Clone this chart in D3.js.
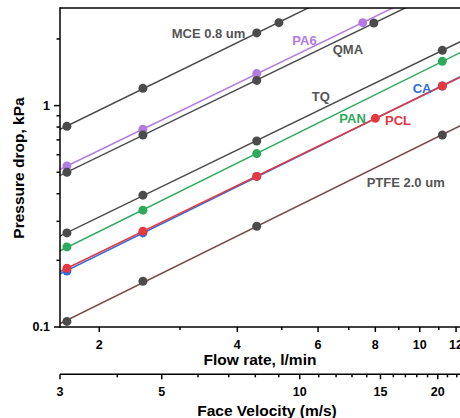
<!DOCTYPE html>
<html>
<head>
<meta charset="utf-8">
<script src="https://cdn.jsdelivr.net/npm/d3@7"></script>
<style>
  html, body { margin: 0; padding: 0; background: #fff; }
  svg { display: block; font-family: "Liberation Sans", Arial, sans-serif; }
</style>
</head>
<body>
<svg id="chart" width="460" height="418"></svg>
<script>
// ---- data ----
const seriesNames = ["MCE 0.8 um", "PA6", "QMA", "TQ", "PAN", "CA", "PCL", "PTFE 2.0 um"];
const mceFlow  = [1.70, 2.49, 4.41, 4.93];
const mceP     = [0.806, 1.197, 2.13, 2.37];
const pa6Flow  = [1.70, 2.49, 4.41, 7.51];
const pa6P     = [0.534, 0.782, 1.395, 2.37];
const qmaFlow  = [1.70, 2.49, 4.41, 7.94];
const qmaP     = [0.500, 0.737, 1.30, 2.36];
const tqFlow   = [1.70, 2.49, 4.41, 11.2];
const tqP      = [0.266, 0.394, 0.692, 1.777];
const panFlow  = [1.70, 2.49, 4.41, 11.2];
const panP     = [0.230, 0.337, 0.607, 1.585];
const caFlow   = [1.70, 2.49, 4.41, 11.2];
const caP      = [0.179, 0.266, 0.479, 1.226];
const pclFlow  = [1.70, 2.49, 4.41, 8.0, 11.2];
const pclP     = [0.184, 0.271, 0.479, 0.876, 1.226];
const ptfeFlow = [1.70, 2.49, 4.41, 11.2];
const ptfeP    = [0.106, 0.161, 0.285, 0.737];

const flowMajorTicks = [2, 4, 6, 8, 10, 12];
const flowMinorTicks = [3, 5, 7, 9, 11];
const velMajorTicks  = [3, 5, 10, 15, 20];
const velMinorTicks  = [4, 6, 7, 8, 9, 11, 12, 13, 14, 16, 17, 18, 19, 21, 22];
const yMajorTicks    = [0.1, 1];
const yMinorTicks    = [0.2, 0.3, 0.4, 0.5, 0.6, 0.7, 0.8, 0.9, 2];
const flowDomain = [1.642, 12.5];
const velDomain  = [3, 22.84];
const pDomain    = [0.1, 2.76];

// ---- styles / layout ----
const dark = "#4b4b4b";
const styles = {
  "MCE 0.8 um":  {line: dark,      marker: dark,      text: "#555555", lx: 171.7, ly: 37.5},
  "PA6":         {line: "#b27be0", marker: "#b27be0", text: "#b27be0", lx: 292.3, ly: 44.7},
  "QMA":         {line: dark,      marker: dark,      text: "#555555", lx: 332.7, ly: 54},
  "TQ":          {line: dark,      marker: dark,      text: "#555555", lx: 311.7, ly: 101.4},
  "PAN":         {line: "#2eaa5c", marker: "#2eaa5c", text: "#2eaa5c", lx: 339.3, ly: 123},
  "CA":          {line: "#2f6fe0", marker: "#2f6fe0", text: "#2f6fe0", lx: 412.7, ly: 93},
  "PCL":         {line: "#e8373f", marker: "#e8373f", text: "#e8373f", lx: 385,   ly: 124.7},
  "PTFE 2.0 um": {line: "#7b4b48", marker: dark,      text: "#555555", lx: 366.7, ly: 187.4}
};
const flows = [mceFlow, pa6Flow, qmaFlow, tqFlow, panFlow, caFlow, pclFlow, ptfeFlow];
const pressures = [mceP, pa6P, qmaP, tqP, panP, caP, pclP, ptfeP];
const series = seriesNames.map((n, i) => ({name: n, pts: flows[i].map((f, j) => ({f, p: pressures[i][j]}))}));

const L = 60, R = 464.2, T = 8, B = 327, velAxisY = 374.3;

const svg = d3.select("#chart");
const x = d3.scaleLog().domain(flowDomain).range([L, R]);
const xv = d3.scaleLog().domain(velDomain).range([L, R]);
const y = d3.scaleLog().domain(pDomain).range([B, T]);

svg.append("defs").append("clipPath").attr("id", "clip")
  .append("rect").attr("x", L).attr("y", T).attr("width", R - L).attr("height", B - T);

const plot = svg.append("g").attr("clip-path", "url(#clip)");

// fitted power-law lines (least squares in log-log)
function fit(pts) {
  const xs = pts.map(d => Math.log10(d.f)), ys = pts.map(d => Math.log10(d.p));
  const mx = d3.mean(xs), my = d3.mean(ys);
  let sxy = 0, sxx = 0;
  xs.forEach((v, i) => { sxy += (v - mx) * (ys[i] - my); sxx += (v - mx) * (v - mx); });
  const b = sxy / sxx, a = my - b * mx;
  return f => Math.pow(10, a + b * Math.log10(f));
}
const lineGen = d3.line().x(d => x(d[0])).y(d => y(d[1]));
series.forEach(s => {
  const fn = fit(s.pts);
  const fs = [flowDomain[0] * 0.95, flowDomain[1] * 1.05];
  plot.append("path")
    .attr("d", lineGen(fs.map(f => [f, fn(f)])))
    .attr("fill", "none").attr("stroke", styles[s.name].line).attr("stroke-width", 1.5);
});
series.forEach(s => {
  plot.selectAll(null).data(s.pts).enter().append("circle")
    .attr("cx", d => x(d.f)).attr("cy", d => y(d.p)).attr("r", 4.5)
    .attr("fill", styles[s.name].marker);
});

// labels
series.forEach(s => {
  const st = styles[s.name];
  svg.append("text").attr("x", st.lx).attr("y", st.ly).text(s.name)
    .attr("font-size", 13).attr("font-weight", "bold").attr("fill", st.text);
});

// axes
const axisG = svg.append("g").attr("stroke", "#000").attr("stroke-width", 1.5).attr("fill", "none");
axisG.append("line").attr("x1", L).attr("x2", L).attr("y1", T - 0.75).attr("y2", B + 0.75);
axisG.append("line").attr("x1", L).attr("x2", 470).attr("y1", B).attr("y2", B);
axisG.append("line").attr("x1", L).attr("x2", 470).attr("y1", T).attr("y2", T);
axisG.append("line").attr("x1", L).attr("x2", 470).attr("y1", velAxisY).attr("y2", velAxisY);

function ticks(vals, scale, len, orient, base) {
  vals.forEach(v => {
    const p = scale(v);
    if (orient === "x") axisG.append("line").attr("x1", p).attr("x2", p).attr("y1", base).attr("y2", base + len);
    else axisG.append("line").attr("y1", p).attr("y2", p).attr("x1", base).attr("x2", base - len);
  });
}
ticks(flowMajorTicks, x, 5, "x", B);
ticks(flowMinorTicks, x, 3, "x", B);
ticks(velMajorTicks, xv, 5, "x", velAxisY);
ticks(velMinorTicks, xv, 3, "x", velAxisY);
ticks(yMajorTicks, y, 6, "y", L);
ticks(yMinorTicks, y, 3.5, "y", L);

const tickFmt = d3.format("~g");
svg.selectAll(null).data(flowMajorTicks).enter().append("text")
  .attr("x", d => x(d)).attr("y", 349).attr("text-anchor", "middle")
  .attr("font-size", 12.5).attr("font-weight", "bold").text(d => tickFmt(d));
svg.selectAll(null).data(velMajorTicks).enter().append("text")
  .attr("x", d => xv(d)).attr("y", 396).attr("text-anchor", "middle")
  .attr("font-size", 12.5).attr("font-weight", "bold").text(d => tickFmt(d));
svg.selectAll(null).data(yMajorTicks).enter().append("text")
  .attr("x", 50).attr("y", d => y(d) + 4.4).attr("text-anchor", "end")
  .attr("font-size", 12.5).attr("font-weight", "bold").text(d => tickFmt(d));

svg.append("text").attr("x", 260).attr("y", 364.5).attr("text-anchor", "middle")
  .attr("font-size", 15.5).attr("font-weight", "bold").text("Flow rate, l/min");
svg.append("text").attr("x", 267).attr("y", 415.5).attr("text-anchor", "middle")
  .attr("font-size", 15.5).attr("font-weight", "bold").text("Face Velocity (m/s)");
svg.append("text").attr("transform", "translate(23.5,168) rotate(-90)").attr("text-anchor", "middle")
  .attr("font-size", 15.5).attr("font-weight", "bold").text("Pressure drop, kPa");
</script>
</body>
</html>
